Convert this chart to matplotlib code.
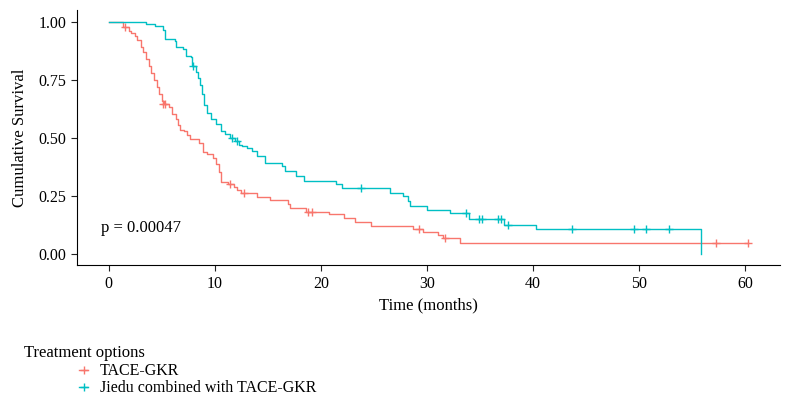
import matplotlib
matplotlib.use('Agg')
import matplotlib.pyplot as plt
from matplotlib.lines import Line2D

plt.rcParams.update({
    'font.family': 'Liberation Serif',
    'font.size': 11.5,
})

RED = '#F8766D'
TEAL = '#00BFC4'

# TACE-GKR (Kaplan-Meier steps, months / survival)
red_time = [0, 1.3, 1.9, 2.1, 2.5, 2.7, 3.0, 3.2, 3.5, 3.8, 4.0, 4.3, 4.5, 4.7, 5.0, 5.2,
            5.7, 6.0, 6.3, 6.5, 6.7, 7.1, 7.4, 7.7, 8.5, 8.85, 9.3, 9.8, 10.1, 10.4, 10.6,
            11.2, 11.8, 12.05, 12.5, 14.0, 15.2, 16.9, 17.1, 18.6, 20.8, 22.2, 23.2, 24.7,
            28.7, 29.6, 31.0, 31.5, 33.1, 60.3]
red_surv = [1.0, 0.975, 0.96, 0.95, 0.94, 0.92, 0.89, 0.87, 0.84, 0.81, 0.78, 0.75, 0.72,
            0.69, 0.66, 0.645, 0.63, 0.60, 0.58, 0.555, 0.535, 0.528, 0.51, 0.493, 0.478,
            0.44, 0.428, 0.41, 0.385, 0.35, 0.31, 0.298, 0.288, 0.275, 0.262, 0.245, 0.23,
            0.215, 0.198, 0.18, 0.169, 0.154, 0.135, 0.121, 0.104, 0.092, 0.078, 0.068,
            0.046, 0.046]
red_cens_t = [1.5, 5.1, 5.3, 11.4, 12.7, 18.8, 19.2, 29.2, 31.7, 57.2, 60.3]
red_cens_s = [0.975, 0.645, 0.645, 0.298, 0.262, 0.18, 0.18, 0.104, 0.068, 0.046, 0.046]

# Jiedu combined with TACE-GKR
teal_time = [0, 3.5, 4.4, 5.1, 5.3, 6.2, 6.3, 7.0, 7.3, 7.75, 7.85, 8.2, 8.4, 8.6, 8.8,
             9.0, 9.3, 9.6, 10.1, 10.6, 11.0, 11.4, 11.9, 12.3, 12.6, 13.0, 13.5, 14.0,
             14.7, 16.3, 16.6, 17.6, 18.4, 21.4, 22.0, 26.5, 27.7, 28.2, 28.4, 30.0, 32.2,
             34.0, 37.3, 40.3, 55.8]
teal_surv = [1.0, 0.99, 0.98, 0.965, 0.925, 0.918, 0.89, 0.882, 0.853, 0.848, 0.81, 0.785,
             0.758, 0.728, 0.69, 0.64, 0.608, 0.58, 0.558, 0.528, 0.514, 0.50, 0.485, 0.47,
             0.464, 0.457, 0.442, 0.421, 0.392, 0.377, 0.356, 0.334, 0.312, 0.298, 0.284,
             0.262, 0.247, 0.228, 0.204, 0.19, 0.173, 0.147, 0.125, 0.107, 0.0]
teal_cens_t = [7.9, 11.6, 12.1, 23.8, 33.7, 34.9, 35.2, 36.7, 37.0, 37.6, 43.7, 49.5, 50.6, 52.8]
teal_cens_s = [0.81, 0.50, 0.485, 0.284, 0.173, 0.147, 0.147, 0.147, 0.147, 0.125, 0.107,
               0.107, 0.107, 0.107]

groups = ['TACE-GKR', 'Jiedu combined with TACE-GKR']
p_text = 'p = 0.00047'

fig = plt.figure(figsize=(7.92, 4.03), dpi=100)
ax = fig.add_axes([0.0972, 0.342, 0.888, 0.633])

ax.step(red_time, red_surv, where='post', color=RED, linewidth=1.0)
ax.plot(red_cens_t, red_cens_s, '+', color=RED, markersize=5.5, mew=1.0)
ax.step(teal_time, teal_surv, where='post', color=TEAL, linewidth=1.0)
ax.plot(teal_cens_t, teal_cens_s, '+', color=TEAL, markersize=5.5, mew=1.0)

ax.set_xlim(-3.0, 63.3)
ax.set_ylim(-0.05, 1.05)
ax.set_xticks([0, 10, 20, 30, 40, 50, 60])
ax.set_yticks([0, 0.25, 0.5, 0.75, 1.0])
ax.set_yticklabels(['0.00', '0.25', '0.50', '0.75', '1.00'])
ax.spines['top'].set_visible(False)
ax.spines['right'].set_visible(False)
ax.tick_params(direction='out', length=4, width=0.8, labelsize=11.5, colors='#222222')
ax.tick_params(labelcolor='black')
ax.set_xlabel('Time (months)', fontsize=12)
ax.set_ylabel('Cumulative Survival', fontsize=12, labelpad=8)

ax.text(-0.7, 0.11, p_text, ha='left', va='center', fontsize=12)

# legend
fig.text(0.03, 0.125, 'Treatment options', ha='left', va='center', fontsize=12)
handles = [Line2D([], [], color=RED, marker='+', markersize=5.5, linewidth=1.0),
           Line2D([], [], color=TEAL, marker='+', markersize=5.5, linewidth=1.0)]
fig.legend(handles, groups, loc='upper left', bbox_to_anchor=(0.0894, 0.118),
           frameon=False, handlelength=0.6, handletextpad=0.7, labelspacing=0.05,
           borderpad=0, fontsize=11.5)

fig.savefig('out.png', dpi=100)
